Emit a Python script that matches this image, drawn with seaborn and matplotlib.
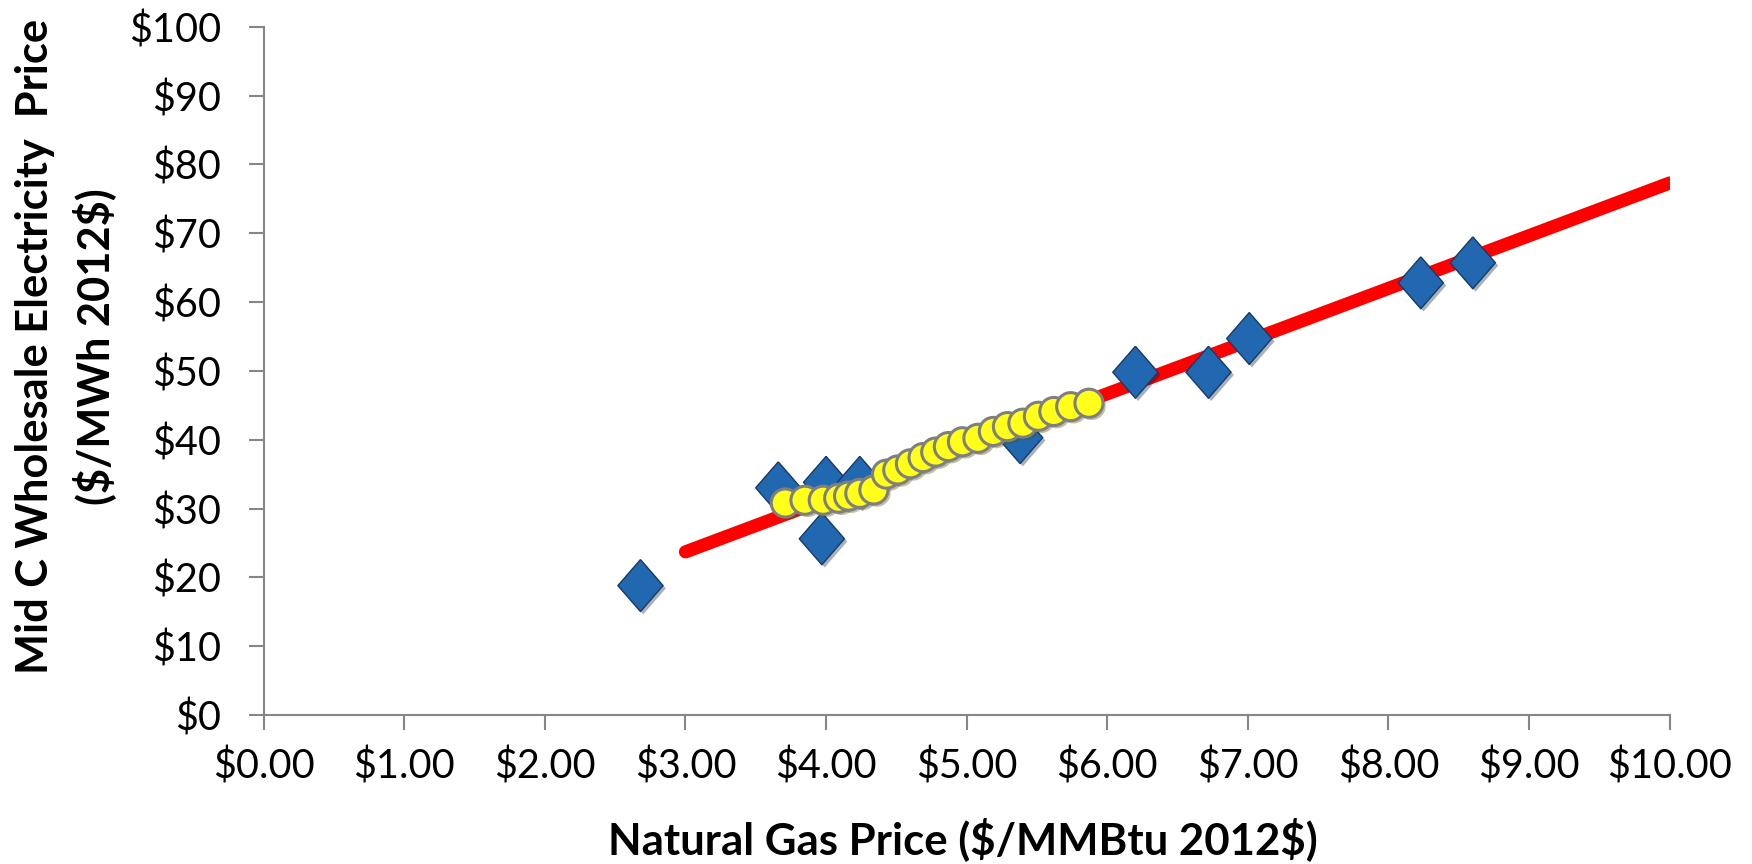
import matplotlib
matplotlib.use("Agg")
import matplotlib.pyplot as plt
import matplotlib.patheffects as pe
from matplotlib.ticker import FuncFormatter
import seaborn as sns
import pandas as pd

# Historical annual observations: gas price vs Mid C power price
hist_gas = [2.68, 3.66, 4.00, 3.97, 4.24, 5.38, 6.20, 6.72, 7.01, 8.23, 8.60]
hist_power = [18.8, 33.0, 33.8, 25.6, 33.8, 40.3, 49.8, 49.8, 54.7, 62.8, 65.7]

# Forecast path
fcst_gas = [3.71, 3.85, 3.98, 4.09, 4.16, 4.24, 4.34, 4.43, 4.51, 4.60, 4.69,
            4.78, 4.87, 4.97, 5.08, 5.19, 5.29, 5.40, 5.51, 5.62, 5.74, 5.87]
fcst_power = [30.8, 31.2, 31.2, 31.5, 31.8, 32.2, 32.7, 35.0, 35.6, 36.5, 37.4,
              38.2, 39.0, 39.7, 40.2, 41.2, 41.9, 42.4, 43.4, 44.1, 44.8, 45.3]

# Linear trend line end points
trend_gas = [3.0, 10.0]
trend_power = [23.7, 77.3]

x_ticks = [0, 1, 2, 3, 4, 5, 6, 7, 8, 9, 10]
y_ticks = [0, 10, 20, 30, 40, 50, 60, 70, 80, 90, 100]

x_title = "Natural Gas Price (\\$/MMBtu 2012\\$)"
y_title = "Mid C Wholesale Electricity  Price\n(\\$/MWh 2012\\$)"

sns.set_theme(style="white")
plt.rcParams["font.family"] = ["Lato", "DejaVu Sans"]

fig = plt.figure(figsize=(17.52, 8.64), dpi=100)
ax = fig.add_axes([0.1505, 0.1725, 0.8025, 0.7965])

hist_df = pd.DataFrame({"gas": hist_gas, "power": hist_power})
fcst_df = pd.DataFrame({"gas": fcst_gas, "power": fcst_power})
trend_df = pd.DataFrame({"gas": trend_gas, "power": trend_power})

sns.lineplot(data=trend_df, x="gas", y="power", ax=ax, color="#FF0000",
             linewidth=9.5, solid_capstyle="round", zorder=2)

diamond = [(0, 1.15), (1, 0), (0, -1.15), (-1, 0), (0, 1.15)]
sns.scatterplot(data=hist_df, x="gas", y="power", ax=ax, marker=diamond,
                s=1400, color="#2268B0", edgecolor="#173A66", linewidth=1.0,
                zorder=3)
sns.scatterplot(data=fcst_df, x="gas", y="power", ax=ax, marker="o",
                s=410, color="#FFFF1A", edgecolor="#7F7F7F", linewidth=2.2,
                zorder=4)

shadow = [pe.SimplePatchShadow(offset=(2, -2), alpha=0.35), pe.Normal()]
for coll in ax.collections:
    coll.set_path_effects(shadow)

ax.set_xlim(0, 10)
ax.set_ylim(0, 100)
ax.set_xticks(x_ticks)
ax.set_yticks(y_ticks)
ax.xaxis.set_major_formatter(FuncFormatter(lambda v, p: f"\\${v:.2f}"))
ax.yaxis.set_major_formatter(FuncFormatter(lambda v, p: f"\\${v:.0f}"))

for side in ["top", "right"]:
    ax.spines[side].set_visible(False)
for side in ["left", "bottom"]:
    ax.spines[side].set_color("#868686")
    ax.spines[side].set_linewidth(1.5)

ax.tick_params(axis="both", which="major", direction="out", length=10.5,
               width=1.5, color="#868686", labelsize=28.5, labelcolor="black",
               bottom=True, left=True)
ax.tick_params(axis="x", pad=13)
ax.tick_params(axis="y", pad=20)

label_font = dict(fontsize=26, fontweight="bold", color="black")
ax.set_xlabel(x_title, **label_font)
ax.set_ylabel(y_title, linespacing=1.45, **label_font)

# Size the axis titles to their intended extents (pixels)
fig.canvas.draw()
renderer = fig.canvas.get_renderer()
xl = ax.xaxis.label
xl.set_fontsize(26 * 710 / xl.get_window_extent(renderer).width)
yl = ax.yaxis.label
yl.set_fontsize(26 * 654 / yl.get_window_extent(renderer).height)

ax.xaxis.set_label_coords(0.497, -0.181)
xl.set_verticalalignment("center")
ax.yaxis.set_label_coords(-0.141, 0.535)
yl.set_verticalalignment("center")

fig.savefig("out.png", dpi=100, facecolor="white")
